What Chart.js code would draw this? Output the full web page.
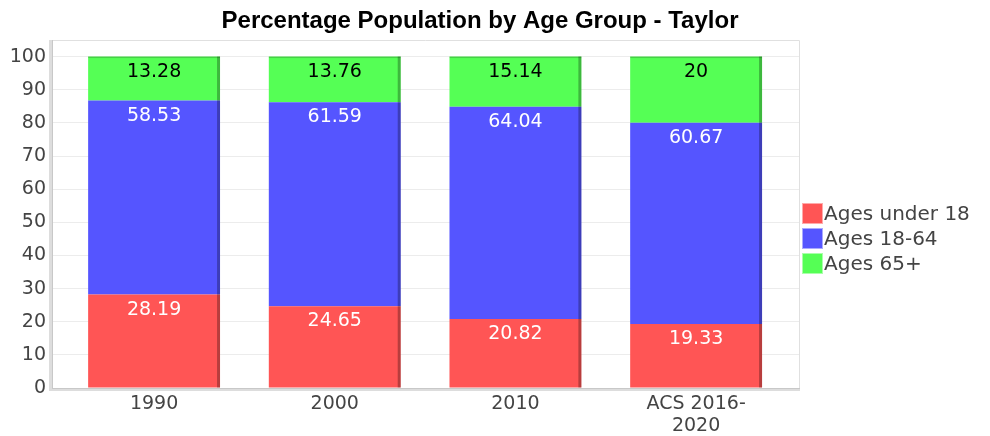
<!DOCTYPE html>
<html>
<head>
<meta charset="utf-8">
<script src="https://cdn.jsdelivr.net/npm/chart.js@4/dist/chart.umd.min.js"></script>
<style>
  html, body { margin: 0; padding: 0; background: #fff; }
  #wrap { width: 990px; height: 436px; position: relative; }
</style>
</head>
<body>
<div id="wrap"><canvas id="c" width="990" height="436"></canvas></div>
<script>
const title = 'Percentage Population by Age Group - Taylor';
const categories = ['1990', '2000', '2010', ['ACS 2016-', '2020']];
const seriesNames = ['Ages under 18', 'Ages 18-64', 'Ages 65+'];
const under18 = [28.19, 24.65, 20.82, 19.33];
const ages18to64 = [58.53, 61.59, 64.04, 60.67];
const ages65plus = [13.28, 13.76, 15.14, 20];
const yTicks = [0, 10, 20, 30, 40, 50, 60, 70, 80, 90, 100];

const colors = ['#FF5555', '#5555FF', '#55FF55'];
const labelColors = ['#ffffff', '#ffffff', '#000000'];
const FONT = "'DejaVu Sans', sans-serif";

function pts(arr) { return arr.map((v, i) => ({ x: i, y: v })); }

const seriesValues = [under18, ages18to64, ages65plus];

const framePlugin = {
  id: 'frame',
  beforeDatasetsDraw(chart) {
    const { ctx, chartArea: a } = chart;
    ctx.save();
    ctx.strokeStyle = '#e0e0e0';
    ctx.lineWidth = 1;
    ctx.beginPath();
    ctx.moveTo(a.left, a.top + 0.5);
    ctx.lineTo(a.right - 0.5, a.top + 0.5);
    ctx.lineTo(a.right - 0.5, a.bottom);
    ctx.stroke();
    ctx.fillStyle = '#dddddd';
    ctx.fillRect(a.left - 3, a.top, 4, a.bottom - a.top + 2);
    ctx.fillRect(a.left - 3, a.bottom, a.right - a.left + 3, 3);
    ctx.fillStyle = '#c8c8c8';
    ctx.fillRect(a.left, a.top, 1, a.bottom - a.top);
    ctx.fillRect(a.left, a.bottom, a.right - a.left, 1);
    ctx.restore();
  }
};

const barDecorPlugin = {
  id: 'barDecor',
  afterDatasetsDraw(chart) {
    const { ctx } = chart;
    ctx.save();
    chart.data.datasets.forEach((ds, di) => {
      const meta = chart.getDatasetMeta(di);
      meta.data.forEach((bar, i) => {
        const p = bar.getProps(['x', 'y', 'base', 'width'], true);
        const right = p.x + p.width / 2;
        const top = Math.min(p.y, p.base);
        const h = Math.abs(p.base - p.y);
        ctx.fillStyle = 'rgba(0,0,0,0.28)';
        ctx.fillRect(right - 3, top, 3, h);
        if (di === 2) {
          ctx.fillStyle = 'rgba(0,0,0,0.18)';
          ctx.fillRect(p.x - p.width / 2, top, p.width, 1.5);
        }
        ctx.fillStyle = labelColors[di];
        ctx.font = '19px ' + FONT;
        ctx.textAlign = 'center';
        ctx.textBaseline = 'alphabetic';
        ctx.fillText(String(seriesValues[di][i]), p.x, top + 20);
      });
    });
    ctx.restore();
  }
};

const titleLegendPlugin = {
  id: 'titleLegend',
  afterDraw(chart) {
    const { ctx } = chart;
    ctx.save();
    ctx.fillStyle = '#000';
    ctx.font = "bold 24px 'Liberation Sans', Arial, sans-serif";
    ctx.textAlign = 'center';
    ctx.textBaseline = 'alphabetic';
    ctx.fillText(title, 480, 28);
    const x0 = 802, y0 = 203, box = 21, step = 25;
    seriesNames.forEach((name, i) => {
      const y = y0 + i * step;
      ctx.fillStyle = colors[i];
      ctx.fillRect(x0, y, box, box);
      ctx.strokeStyle = 'rgba(255,255,255,0.5)';
      ctx.lineWidth = 1;
      ctx.strokeRect(x0 + 0.5, y + 0.5, box - 1, box - 1);
      ctx.fillStyle = '#444';
      ctx.font = '20px ' + FONT;
      ctx.textAlign = 'left';
      ctx.textBaseline = 'middle';
      ctx.fillText(name, x0 + box + 1, y + box / 2 + 1);
    });
    ctx.restore();
  }
};

new Chart(document.getElementById('c'), {
  type: 'bar',
  data: {
    datasets: seriesNames.map((name, i) => ({
      label: name,
      data: pts(seriesValues[i]),
      backgroundColor: colors[i],
      borderWidth: 0,
      barPercentage: 0.73,
      categoryPercentage: 1.0
    }))
  },
  options: {
    responsive: false,
    animation: false,
    devicePixelRatio: 1,
    layout: { padding: { top: 40, right: 190, left: 0, bottom: 0 } },
    plugins: {
      legend: { display: false },
      title: { display: false },
      tooltip: { enabled: false }
    },
    scales: {
      x: {
        type: 'linear',
        stacked: true,
        offset: false,
        bounds: 'data',
        min: -0.565,
        max: 3.575,
        afterFit(s) { s.height = 48; },
        afterBuildTicks(s) {
          s.ticks = categories.map((c, i) => ({ value: i }));
        },
        grid: { display: false, drawTicks: false, offset: false },
        border: { display: false },
        ticks: {
          padding: 5,
          autoSkip: false,
          maxRotation: 0,
          color: '#444',
          font: { family: FONT, size: 19, lineHeight: 1.15 },
          callback: (v) => categories[Math.round(v)]
        }
      },
      y: {
        stacked: true,
        min: 0,
        max: 105,
        afterFit(s) { s.width = 52; },
        afterBuildTicks(s) {
          s.ticks = yTicks.map(v => ({ value: v }));
        },
        grid: { color: '#ececec', lineWidth: 1, drawTicks: false },
        border: { display: false },
        ticks: {
          padding: 6,
          color: '#444',
          font: { family: FONT, size: 19 }
        }
      }
    }
  },
  plugins: [framePlugin, barDecorPlugin, titleLegendPlugin]
});
</script>
</body>
</html>
